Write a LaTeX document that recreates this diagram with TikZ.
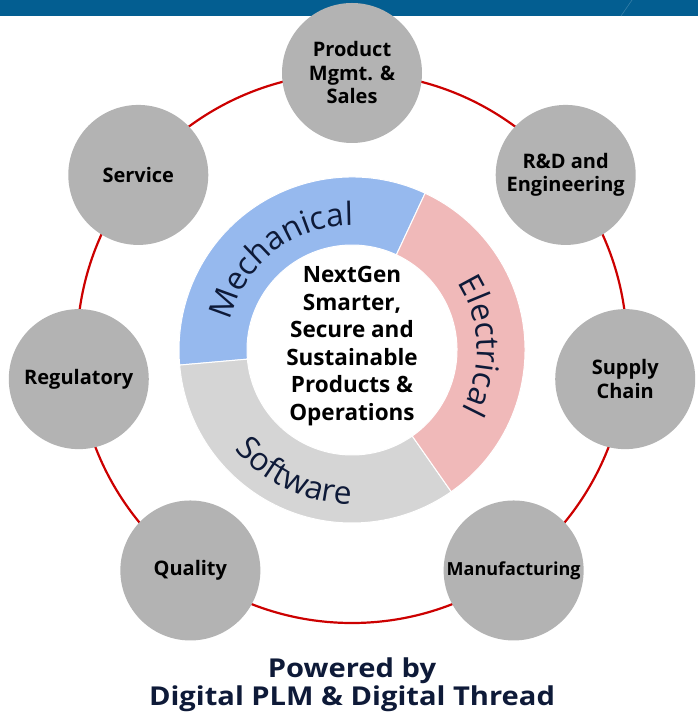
\documentclass[tikz,border=0pt]{standalone}
\usepackage{fontspec}
\setmainfont{Open Sans}
\newfontfamily\footfont[FakeStretch=1.12]{Open Sans}
\usetikzlibrary{decorations.text}
\definecolor{barblue}{HTML}{035E91}
\definecolor{ringred}{HTML}{CC0000}
\definecolor{mechblue}{HTML}{96B9EE}
\definecolor{elecpink}{HTML}{F0B9B9}
\definecolor{softgray}{HTML}{D5D5D5}
\definecolor{dotgray}{HTML}{B3B3B3}
\definecolor{navy}{HTML}{0E1A38}
\newcommand{\orbit}{275pt}

\begin{document}
\begin{tikzpicture}[x=1pt, y=1pt,
        area/.style={shape=circle, fill=dotgray, minimum size=140pt, inner sep=0pt, align=center, font=\fontsize{20}{23.5}\selectfont\bfseries},
        segment/.style={draw=white, line width=1pt},
        ringtext/.style={decorate, decoration={text along path, text align=center, text color=navy, text={|\fontsize{32}{32}\selectfont|#1}}}]
        \useasboundingbox (-352, -371) rectangle (346, 348);

        %header bar
        \fill[barblue] (-352, 332) rectangle (346, 348);
        \draw[barblue!80!white, line width=0.6pt] (269, 332) -- (280, 348);

        %orbit
        \draw[ringred, line width=2.2pt] (0, 0) circle (\orbit);

        %discipline ring
        \begin{scope}[yshift=-2pt]
                \fill[mechblue, segment] (65:173pt) arc (65:185:173pt) -- (185:105pt) arc (185:65:105pt) -- cycle;
                \fill[softgray, segment] (185:173pt) arc (185:305:173pt) -- (305:105pt) arc (305:185:105pt) -- cycle;
                \fill[elecpink, segment] (-55:173pt) arc (-55:65:173pt) -- (65:105pt) arc (65:-55:105pt) -- cycle;
                \path[ringtext=Mechanical] (180:125pt) arc (180:76:125pt);
                \path[ringtext=Electrical] (56:125pt) arc (56:-52:125pt);
                \path[ringtext=Software] (-168:154pt) arc (-168:-62:154pt);
        \end{scope}

        \node[font=\fontsize{22.5}{27.6}\selectfont\bfseries, align=center] (core) at (0, 2) {NextGen\\Smarter,\\Secure and\\Sustainable\\Products \&\\Operations};

        %functions on the orbit
        \node[area] (product) at (90:\orbit) {Product\\Mgmt. \&\\Sales};
        \node[area] (rnd) at (39:\orbit) {R\&D and\\Engineering};
        \node[area] (supply) at (-6.5:\orbit) {Supply\\Chain};
        \node[area, font=\fontsize{18}{22}\selectfont\bfseries] (manuf) at (-54:\orbit) {Manufacturing};
        \node[area] (quality) at (-126:\orbit) {Quality};
        \node[area] (regul) at (-173.5:\orbit) {Regulatory};
        \node[area] (service) at (141:\orbit) {Service};

        %footer
        \node[font=\footfont\fontsize{26}{28}\selectfont\bfseries, text=navy, anchor=base] (powered) at (0, -329) {Powered by};
        \node[font=\footfont\fontsize{26}{28}\selectfont\bfseries, text=navy, anchor=base] (thread) at (0, -357) {Digital PLM \& Digital Thread};
\end{tikzpicture}
\end{document}
